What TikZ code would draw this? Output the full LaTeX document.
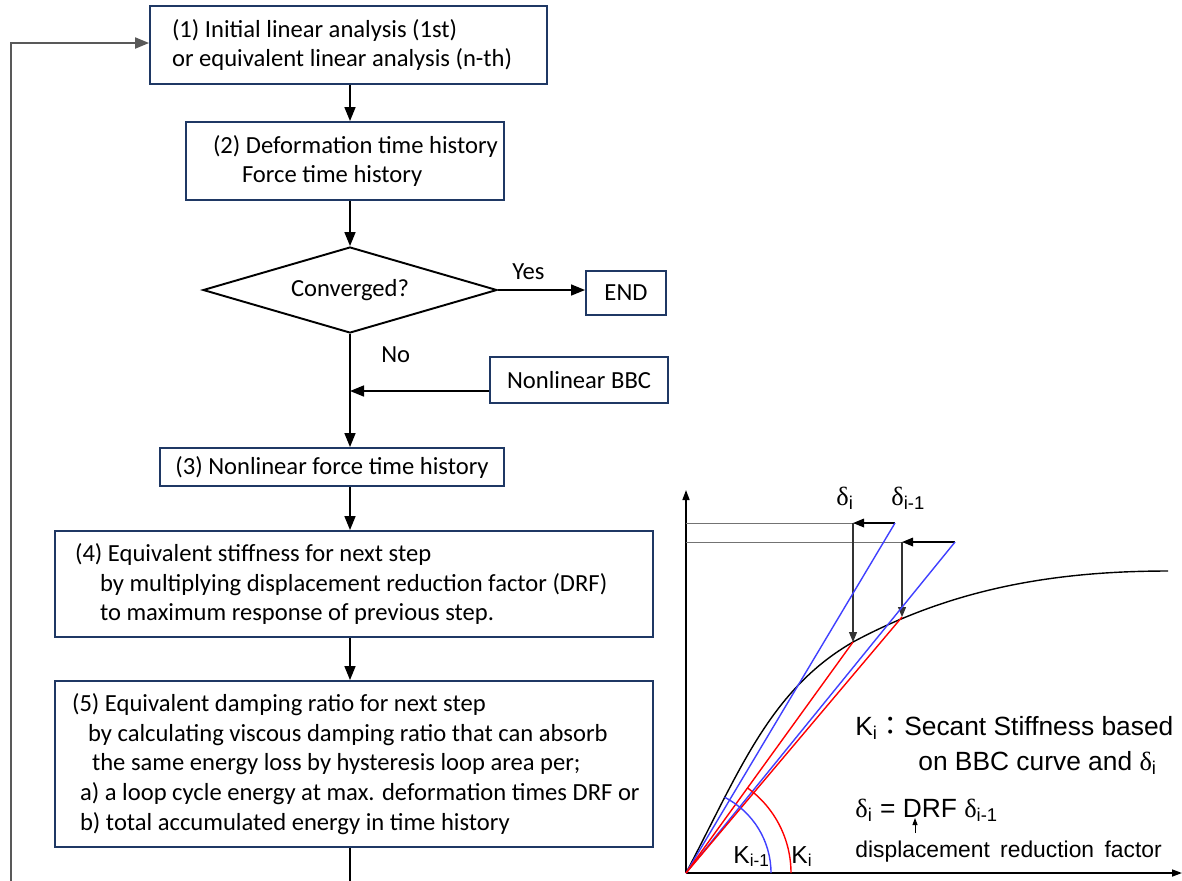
\documentclass[tikz,border=0pt]{standalone}
\usepackage{fontspec}
\setmainfont{Carlito}
\newfontfamily\grfont{Liberation Sans}
\newfontfamily\dfont{Liberation Serif}
\newfontfamily\cjkfont{Noto Sans CJK JP}
\usetikzlibrary{arrows.meta,shapes.geometric}
\definecolor{boxblue}{HTML}{1F3864}
\definecolor{kblue}{HTML}{4040FF}
\newcommand{\dl}{{\dfont δ}}
\newcommand{\lowtxt}[1]{\textsubscript{#1}}
\newcommand{\txtline}[2][0cm]{\hspace*{#1}\mbox{#2}}

\begin{document}
\begin{tikzpicture}[x=0.02cm,y=-0.02cm,
    font=\fontsize{14}{17}\selectfont,
    box/.style={draw=boxblue,line width=1.1pt,inner ysep=0pt},
    flow/.style={line width=0.9pt,-{Triangle[length=0.28cm,width=0.22cm]}},
    loopline/.style={draw=black!65,line width=1.1pt},
    axis/.style={line width=0.9pt,-{Triangle[length=0.2cm,width=0.14cm]}},
    guide/.style={draw=black!55,line width=0.5pt},
    drop/.style={draw=black!80,line width=0.6pt,-{Triangle[length=0.2cm,width=0.16cm]}},
    push/.style={line width=1pt,-{Triangle[length=0.22cm,width=0.17cm]}},
    kb/.style={draw=kblue,line width=0.8pt},
    kr/.style={draw=red,line width=0.8pt},
    gtext/.style={font=\grfont\fontsize{15}{18}\selectfont,inner sep=0pt}]
\useasboundingbox (0,0) rectangle (1182,880);

\node[box,align=flush left,inner xsep=0.44cm,text width=7.06cm,minimum height=1.56cm] (init) at (348.5,45)
    {\txtline{(1) Initial linear analysis (1st)}\\\txtline{or equivalent linear analysis (n-th)}};
\node[box,align=flush left,inner xsep=0.38cm,text width=5.6cm,minimum height=1.56cm] (hist) at (345,161)
    {\txtline[0.16cm]{(2) Deformation time history}\\\txtline[0.74cm]{Force time history}};
\node[diamond,draw,line width=1.1pt,aspect=3.42,inner sep=0pt,minimum width=5.88cm,minimum height=1.72cm] (conv) at (350,290)
    {Converged?};
\node[box,align=center,minimum width=1.6cm,minimum height=0.88cm] (fin) at (626,293) {END};
\node[box,align=center,minimum width=3.56cm,minimum height=0.92cm] (bbc) at (579,380) {Nonlinear BBC};
\node[box,align=center,minimum width=6.88cm,minimum height=0.76cm] (force) at (332,467)
    {(3) Nonlinear force time history};
\node[box,align=flush left,inner xsep=0.4cm,text width=11.16cm,minimum height=2.12cm] (stiff) at (354,584)
    {\txtline{(4) Equivalent stiffness for next step}\\
     \txtline[0.5cm]{by multiplying displacement reduction factor (DRF)}\\
     \txtline[0.5cm]{to maximum response of previous step.}};
\node[box,align=flush left,inner xsep=0.34cm,text width=11.28cm,minimum height=3.32cm] (damp) at (354,764)
    {\txtline{(5) Equivalent damping ratio for next step}\\
     \txtline[0.32cm]{by calculating viscous damping ratio that can absorb}\\
     \txtline[0.4cm]{the same energy loss by hysteresis loop area per;}\\
     \txtline[0.16cm]{a) a loop cycle energy at max. deformation times DRF or}\\
     \txtline[0.16cm]{b) total accumulated energy in time history}};

\coordinate (downend) at (350,884);
\coordinate (loopend) at (11,884);
\draw[flow] (init.south -| conv) -- (hist.north -| conv);
\draw[flow] (hist.south -| conv) -- (conv.north);
\draw[flow] (conv.east) -- node[above=2pt,pos=0.35] {Yes} (conv.east -| fin.west);
\draw[flow] (conv.south) -- node[right=14pt,pos=0.18] {No} (force.north -| conv);
\draw[flow] ([yshift=-0.22cm]bbc.west) coordinate (bbcout) -- (bbcout -| conv);
\draw[flow] (force.south -| conv) -- (stiff.north -| conv);
\draw[flow] (stiff.south -| conv) -- (damp.north -| conv);
\draw[line width=0.9pt] (damp.south -| conv) -- (downend);
\draw[loopline,-{Triangle[length=0.28cm,width=0.22cm]}] (loopend) |- (init.west |- 0,43);

\coordinate (O) at (686,873);
\coordinate (B1) at (895,523);
\coordinate (B2) at (955,542);
\coordinate (P1) at (853,642);
\coordinate (P2) at (902,617);
\draw[axis] (O) -- (686,490);
\draw[axis] (O) -- (1182,873);
\draw[guide] (O |- B1) -- (B1);
\draw[guide] (O |- B2) -- (B2);
\draw[push] (B1) -- (B1 -| P1);
\draw[push] (B2) -- (B2 -| P2);
\draw[drop] (B1 -| P1) -- (P1);
\draw[drop] (B2 -| P2) -- (P2);
\draw[line width=0.8pt] (O) .. controls (740,770) and (770,690) .. (P1)
    .. controls (950,590) and (1050,571) .. (1168,571);
\draw[kb] (O) -- (B1);
\draw[kb] (O) -- (B2);
\draw[kr] (O) -- (P1);
\draw[kr] (O) -- (P2);
\draw[kb] (O) ++(-63:85) arc[start angle=-63,end angle=0,radius=85];
\draw[kr] (O) ++(-54:105) arc[start angle=-54,end angle=0,radius=105];

\node[gtext,anchor=base west] (dnew) at (836,505) {\dl\lowtxt{i}};
\node[gtext,anchor=base west] (dold) at (891,505) {\dl\lowtxt{i-1}};
\node[gtext,anchor=base west,font=\grfont\fontsize{14}{16}\selectfont] (kold) at (733,863) {K\lowtxt{i-1}};
\node[gtext,anchor=base west,font=\grfont\fontsize{14}{16}\selectfont] (knew) at (791,863) {K\lowtxt{i}};
\node[gtext,anchor=base west] (def1) at (855,735) {K\lowtxt{i}{\cjkfont ：}Secant Stiffness based};
\node[gtext,anchor=base west] (def2) at (918,770) {on BBC curve and \dl\lowtxt{i}};
\node[gtext,anchor=base west] (rule) at (855,817) {\dl\lowtxt{i} = DRF \dl\lowtxt{i-1}};
\node[gtext,anchor=base west,font=\grfont\fontsize{13}{16}\selectfont] (drf) at (855,857)
    {displacement\hspace{0.08cm} reduction\hspace{0.08cm} factor};
\draw[-{Triangle[length=0.14cm,width=0.1cm]},line width=0.5pt] (915,833) -- (915,818);
\end{tikzpicture}
\end{document}
